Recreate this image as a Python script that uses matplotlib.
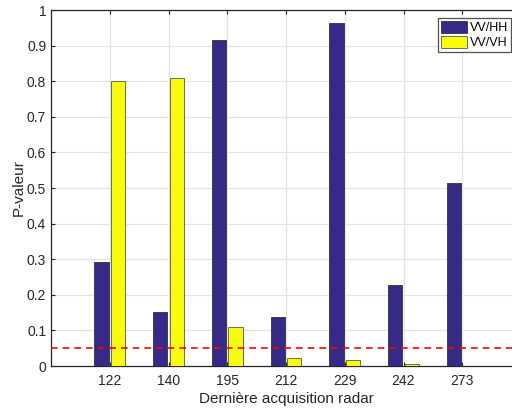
import matplotlib
matplotlib.use("Agg")
import matplotlib.pyplot as plt
import numpy as np

plt.rcParams['font.family'] = ['Liberation Sans', 'DejaVu Sans']

acquisitions = ['122', '140', '195', '212', '229', '242', '273']
p_vv_hh = [0.291, 0.152, 0.917, 0.139, 0.963, 0.227, 0.513]
p_vv_vh = [0.800, 0.810, 0.110, 0.022, 0.017, 0.006, 0.0]
seuil = 0.05

fig = plt.figure(figsize=(5.12, 4.08), dpi=100)
ax = fig.add_axes([51/512, 42/408, 470/512, 356/408])

x = np.arange(1, len(acquisitions) + 1)
ax.bar(x - 0.14, p_vv_hh, width=0.24, color='#352A87', edgecolor='#333333',
       linewidth=0.6, label='VV/HH', zorder=3)
ax.bar(x + 0.14, p_vv_vh, width=0.24, color='#F9FB0E', edgecolor='#555555',
       linewidth=0.6, label='VV/VH', zorder=3)
ax.axhline(seuil, color='#FF0000', linestyle=(0, (4, 3)), linewidth=1.2, zorder=4)

ax.set_xlim(0, 8)
ax.set_ylim(0, 1)
ax.set_xticks(x)
ax.set_xticklabels(acquisitions)
ax.set_yticks(np.arange(0, 1.01, 0.1))
ax.set_yticklabels(['0', '0.1', '0.2', '0.3', '0.4', '0.5', '0.6', '0.7', '0.8', '0.9', '1'])
ax.grid(True, color='#E3E3E3', linewidth=0.9, zorder=0)
ax.set_axisbelow(True)

ax.tick_params(direction='in', length=3, width=0.8, colors='#262626',
               labelsize=10, top=True, right=False)
ax.tick_params(axis='x', pad=6)
for side in ['left', 'bottom', 'top']:
    ax.spines[side].set_color('#262626')
    ax.spines[side].set_linewidth(0.9)
ax.spines['right'].set_visible(False)

ax.set_xlabel('Dernière acquisition radar', fontsize=11, color='#262626', labelpad=3)
ax.set_ylabel('P-valeur', fontsize=11, color='#262626', labelpad=1)

leg = ax.legend(loc='upper right', bbox_to_anchor=(511/512, 1 - 18/408),
                bbox_transform=fig.transFigure, fontsize=9, frameon=True,
                fancybox=False, borderpad=0.25, handlelength=2.1, handleheight=1.1,
                handletextpad=0.2, labelspacing=0.12, borderaxespad=0)
leg.get_frame().set_edgecolor('#262626')
leg.get_frame().set_linewidth(0.9)

fig.savefig('out.png', dpi=100)
